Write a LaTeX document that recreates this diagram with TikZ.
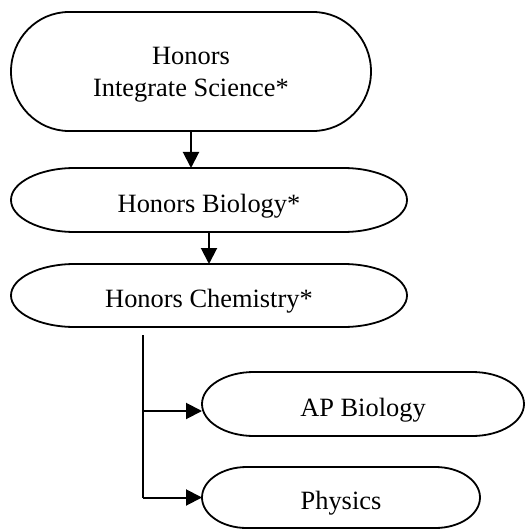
\documentclass[tikz,border=0pt]{standalone}
\usepackage{fontspec}
\setmainfont{Liberation Serif}
\usetikzlibrary{arrows.meta,calc}
\tikzset{
  term/.style={draw=none, rectangle, inner sep=0pt, outer sep=0pt,
    font=\fontsize{26.4}{32}\selectfont, text height=24pt, text depth=0pt},
  termline/.style={line width=1.8pt},
  conn/.style={line width=2pt, -{Triangle[length=16pt,width=16pt]}},
  branch/.style={line width=2pt},
}
\newcommand{\termshape}[1]{%
  \draw[termline] let \p1=(#1.north west), \p2=(#1.south east),
    \n1={0.1609*(\x2-\x1)}, \n2={0.5*(\y1-\y2)} in
    (\x1+\n1,\y1) -- (\x2-\n1,\y1)
    arc[start angle=90, end angle=-90, x radius=\n1, y radius=\n2]
    -- (\x1+\n1,\y2)
    arc[start angle=270, end angle=90, x radius=\n1, y radius=\n2]
    -- cycle;}
\begin{document}
\begin{tikzpicture}[x=1pt,y=-1pt]
\useasboundingbox (0,0) rectangle (525,529);
\node[term, minimum width=360pt, minimum height=119pt, align=center,
      text height=, text depth=] (top) at (191,71.5) {\rule{0pt}{23pt}Honors\\Integrate Science*};
\node[term, minimum width=396pt, minimum height=64pt] (bio) at (209,200) {Honors Biology*};
\node[term, minimum width=396pt, minimum height=63pt] (chem) at (209,295.5) {Honors Chemistry*};
\node[term, minimum width=322pt, minimum height=64pt] (ap) at (363,404) {AP Biology};
\node[term, minimum width=278pt, minimum height=61pt] (phys) at (341,497.5) {Physics};
\termshape{top}
\termshape{bio}
\termshape{chem}
\termshape{ap}
\termshape{phys}
\draw[conn] (top.south) -- (top.south |- bio.north);
\draw[conn] (bio.south) -- (chem.north);
\coordinate (b1) at ($(chem.south)+(-66,8)$);
\coordinate (b2) at (b1 |- phys.west);
\coordinate (ba) at ($(b1 |- ap.west)+(0,7)$);
\draw[branch] (b1) -- (b2);
\draw[conn] (ba) -- (ba -| ap.west);
\draw[conn] (b2) -- (phys.west);
\end{tikzpicture}
\end{document}
